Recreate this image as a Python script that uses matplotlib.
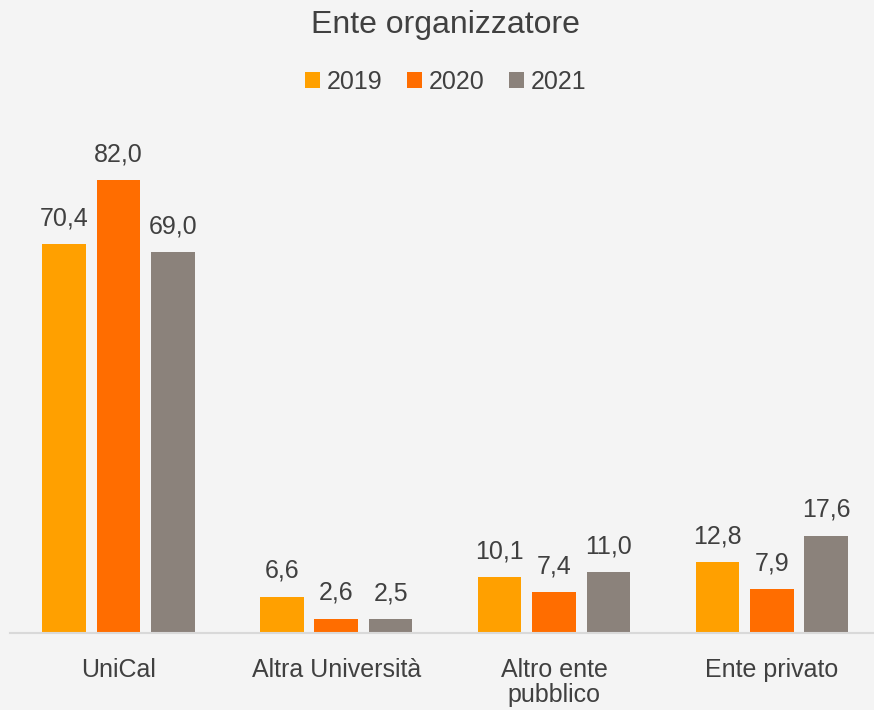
import matplotlib
matplotlib.use("Agg")
import matplotlib.pyplot as plt
import numpy as np

categories = ["UniCal", "Altra Università", "Altro ente\npubblico", "Ente privato"]
years = ["2019", "2020", "2021"]
v2019 = [70.4, 6.6, 10.1, 12.8]
v2020 = [82.0, 2.6, 7.4, 7.9]
v2021 = [69.0, 2.5, 11.0, 17.6]
colors = ["#FFA000", "#FF6D00", "#8B827B"]

plt.rcParams['font.family'] = ['Liberation Sans', 'DejaVu Sans']
txt = "#404040"
bg = "#F4F4F4"

fig = plt.figure(figsize=(8.74, 7.10), dpi=100, facecolor=bg)
ax = fig.add_axes([0.011, 0.1085, 0.9966, 0.70])
ax.set_facecolor(bg)

x = np.arange(len(categories))
w = 0.2
series = [v2019, v2020, v2021]
for i, (vals, c, lab) in enumerate(zip(series, colors, years)):
    bars = ax.bar(x + (i - 1) * 0.25, vals, width=w, color=c, label=lab, zorder=2)
    for b, v in zip(bars, vals):
        ax.annotate(f"{v:.1f}".replace(".", ","), (b.get_x() + b.get_width() / 2, v),
                    xytext=(0, 10), textcoords="offset points", ha="center", va="bottom",
                    fontsize=18, color=txt)

ax.set_xlim(-0.5, 3.5)
ax.set_ylim(0, 90)
for s in ["top", "right", "left"]:
    ax.spines[s].set_visible(False)
ax.spines["bottom"].set_color("#D9D9D9")
ax.spines["bottom"].set_linewidth(1.5)
ax.set_yticks([])
ax.set_xticks(x)
ax.set_xticklabels(categories, fontsize=18, color=txt, linespacing=1.05)
ax.tick_params(axis="x", length=0, pad=18)

fig.text(0.51, 0.965, "Ente organizzatore", ha="center", va="center", fontsize=23, color=txt)
leg = fig.legend(loc="center", bbox_to_anchor=(0.51, 0.885), ncol=3, frameon=False,
                 fontsize=18, handlelength=0.6, handleheight=0.6, handletextpad=0.25,
                 columnspacing=1.0)
for t in leg.get_texts():
    t.set_color(txt)

fig.savefig("out.png", dpi=100, facecolor=bg)
